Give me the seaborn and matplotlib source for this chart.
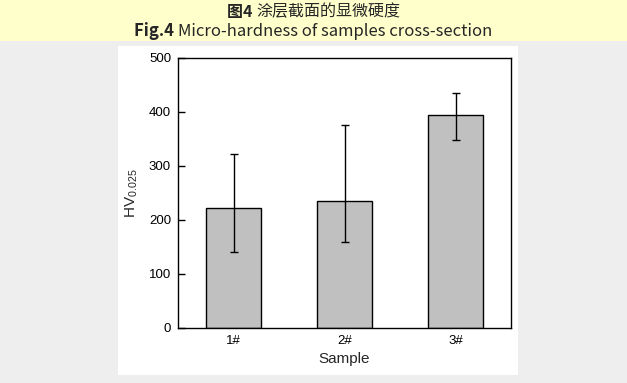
import matplotlib
matplotlib.use("Agg")
import matplotlib.pyplot as plt
import seaborn as sns
import pandas as pd
from matplotlib.patches import Rectangle

# values
samples = ["1#", "2#", "3#"]
hardness = [223, 236, 394]
err_low = [83, 77, 46]
err_high = [100, 140, 42]

sns.set_style("ticks")
plt.rcParams["font.family"] = ["Liberation Sans", "DejaVu Sans"]
plt.rcParams["mathtext.fontset"] = "custom"
plt.rcParams["mathtext.rm"] = "Liberation Sans"

W, H = 627, 383
fig = plt.figure(figsize=(W / 100, H / 100), dpi=100, facecolor="#eeeeee")

# yellow caption band and white chart panel
fig.patches.append(Rectangle((0, 1 - 41 / H), 1, 41 / H, transform=fig.transFigure,
                             facecolor="#ffffcc", edgecolor="none", zorder=-2))
fig.patches.append(Rectangle((118 / W, 1 - 375 / H), 400 / W, 329 / H, transform=fig.transFigure,
                             facecolor="white", edgecolor="none", zorder=-2))

ax = fig.add_axes([178 / W, 1 - 328 / H, 333 / W, 270 / H])
ax.set_facecolor("white")

df = pd.DataFrame({"Sample": samples, "HV": hardness})
sns.barplot(data=df, x="Sample", y="HV", color="#c0c0c0", edgecolor="black",
            linewidth=1, width=0.5, errorbar=None, saturation=1, ax=ax)
ax.errorbar(range(len(samples)), hardness, yerr=[err_low, err_high], fmt="none",
            ecolor="black", elinewidth=1, capsize=3, capthick=1)

ax.set_xlim(-0.5, 2.5)
ax.set_ylim(0, 500)
ax.set_yticks([0, 100, 200, 300, 400, 500])
for s in ax.spines.values():
    s.set_visible(True)
    s.set_linewidth(1)
    s.set_color("black")
ax.tick_params(direction="in", length=5, width=1, labelsize=9.5, colors="black", pad=5)
ax.set_xlabel("Sample", fontsize=11, labelpad=4)
ax.set_ylabel(r"HV$_{\mathrm{0.025}}$", fontsize=11, labelpad=6)

# caption lines with bold prefix
cjk = ["Noto Sans CJK SC", "DejaVu Sans"]
fig.canvas.draw()
r = fig.canvas.get_renderer()


def caption(y, bold, rest, size):
    t1 = fig.text(0, y, bold, fontsize=size, fontweight="bold", family=cjk, va="center")
    t2 = fig.text(0, y, rest, fontsize=size, family=cjk, va="center")
    w1 = t1.get_window_extent(r).width
    w2 = t2.get_window_extent(r).width
    x0 = (W / 2 - (w1 + w2) / 2)
    t1.set_x(x0 / W)
    t2.set_x((x0 + w1) / W)


caption(1 - 12 / H, "图4 ", "涂层截面的显微硬度", 11.5)
caption(1 - 31 / H, "Fig.4 ", "Micro-hardness of samples cross-section", 12)

fig.savefig("out.png", dpi=100, facecolor=fig.get_facecolor())
